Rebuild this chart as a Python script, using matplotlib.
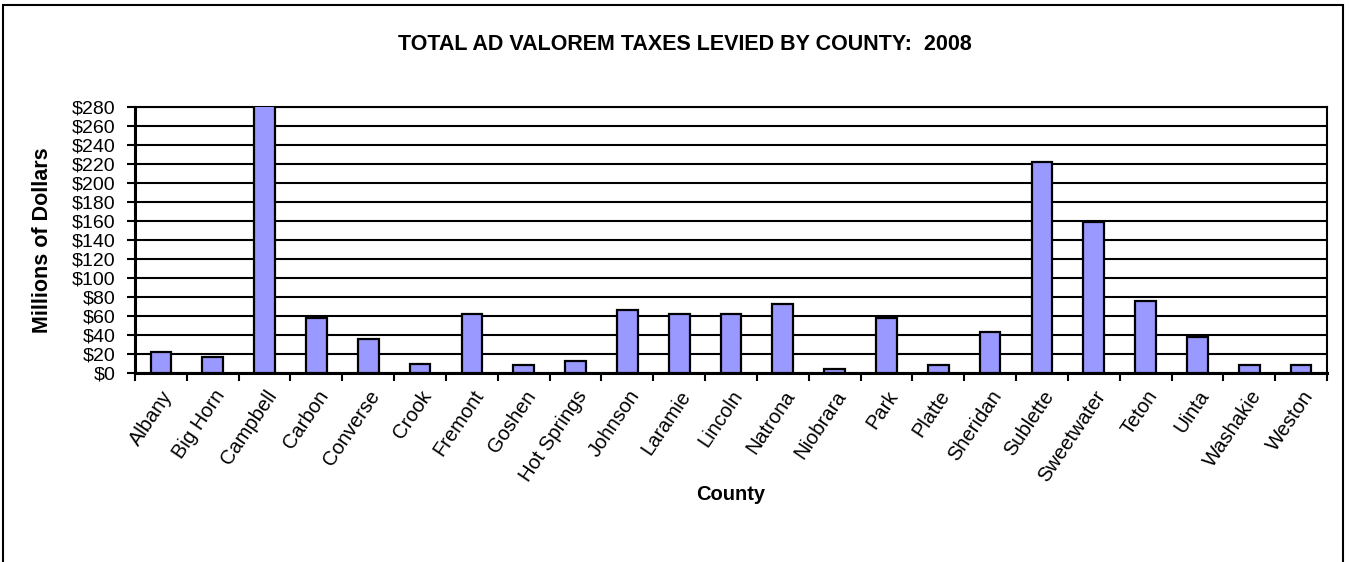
import matplotlib
matplotlib.use("Agg")
import matplotlib.pyplot as plt
from matplotlib.patches import Rectangle
import numpy as np

counties = ["Albany", "Big Horn", "Campbell", "Carbon", "Converse", "Crook", "Fremont",
            "Goshen", "Hot Springs", "Johnson", "Laramie", "Lincoln", "Natrona", "Niobrara",
            "Park", "Platte", "Sheridan", "Sublette", "Sweetwater", "Teton", "Uinta",
            "Washakie", "Weston"]
taxes = [22, 17, 285, 57.5, 35.5, 10, 62.5,
         8.5, 13, 66.5, 62.5, 62.5, 73, 4.5,
         57.5, 8.5, 43, 222, 158.5, 76, 38,
         8.5, 8.5]
yticks = list(range(0, 281, 20))
ytick_labels = [f"${v}" for v in yticks]

plt.rcParams['font.family'] = ['Liberation Sans', 'DejaVu Sans']

fig = plt.figure(figsize=(13.5, 5.62), dpi=100)
ax = fig.add_axes([135/1350, 1 - 373/562, (1327 - 135)/1350, (373 - 107)/562])

x = np.arange(len(counties))
ax.bar(x, taxes, width=0.4, color="#9999FF", edgecolor="black", linewidth=1.6, zorder=3)

ax.set_xlim(-0.5, len(counties) - 0.5)
ax.set_ylim(0, 280)
ax.set_yticks(yticks)
ax.set_yticklabels(ytick_labels, fontsize=14)
ax.yaxis.grid(True, color="black", linewidth=1.5, zorder=1)
ax.set_axisbelow(True)

ax.set_xticks(np.arange(len(counties) + 1) - 0.5)
ax.set_xticklabels([])
ax.set_xticks(x, minor=True)
ax.set_xticklabels(counties, minor=True, rotation=56, ha="right", va="top",
                   rotation_mode="anchor", fontsize=14.5)
ax.tick_params(axis="x", which="minor", length=0, pad=10)
ax.tick_params(axis="x", which="major", direction="out", length=5.8, width=1.5)
ax.tick_params(axis="y", direction="out", length=5.8, width=1.5, pad=8)

for s in ["left", "bottom"]:
    ax.spines[s].set_linewidth(2.2)
for s in ["top", "right"]:
    ax.spines[s].set_linewidth(1.5)

ax.set_ylabel("Millions of Dollars", fontsize=15.5, fontweight="bold")
ax.set_xlabel("County", fontsize=14.5, fontweight="bold")
ax.xaxis.set_label_coords((731 - 135) / (1327 - 135), -(485 - 373) / (373 - 107))
ax.yaxis.set_label_coords(-(135 - 53) / (1327 - 135), 0.5)

fig.text(685 / 1350, 1 - 45 / 562, "TOTAL AD VALOREM TAXES LEVIED BY COUNTY:  2008",
         ha="center", va="center", fontsize=15.5, fontweight="bold")

fig.patches.append(Rectangle((3 / 1350, -0.02), (1343 - 3) / 1350, 1.02 - 5 / 562,
                             transform=fig.transFigure, fill=False, edgecolor="black",
                             linewidth=1.5))

fig.savefig("out.png", dpi=100)
